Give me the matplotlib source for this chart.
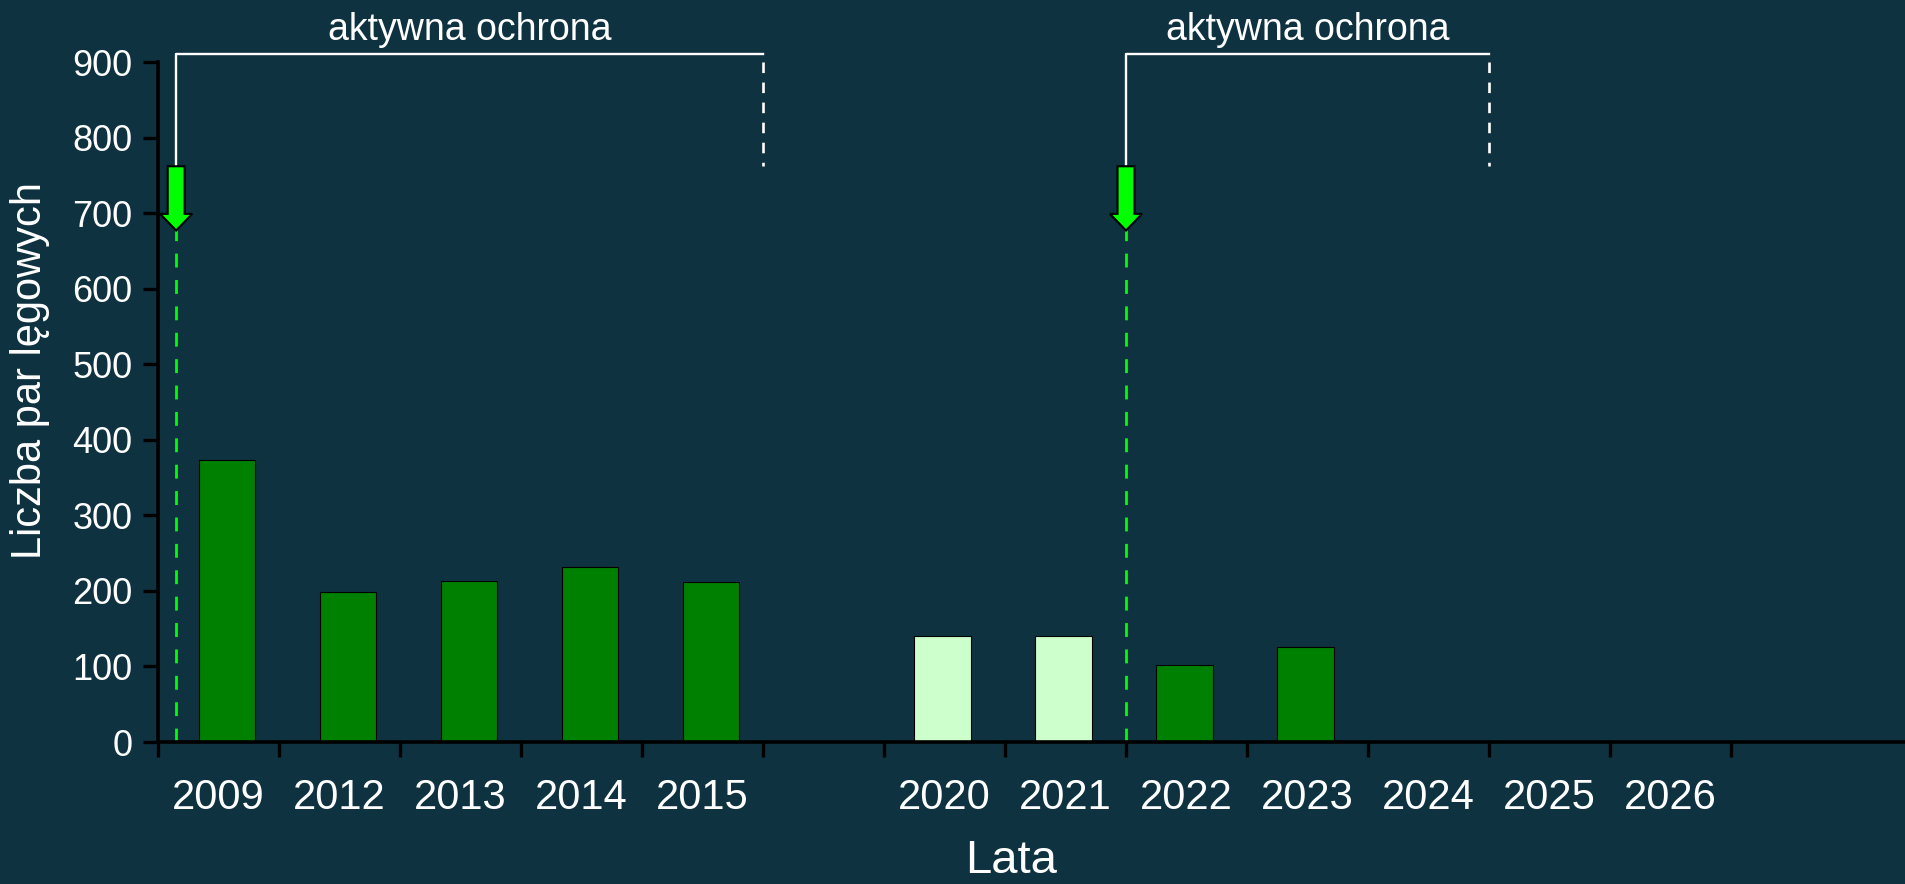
import matplotlib
matplotlib.use("Agg")
import matplotlib.pyplot as plt
from matplotlib.patches import FancyArrow

plt.rcParams['font.family'] = ['Liberation Sans', 'DejaVu Sans']

# categories on the x axis ('' = empty slot between 2015 and 2020)
years = ["2009", "2012", "2013", "2014", "2015", "", "2020", "2021", "2022", "2023", "2024", "2025", "2026"]

# counted breeding pairs
bar_years = ["2009", "2012", "2013", "2014", "2015", "2020", "2021", "2022", "2023"]
pairs = [373, 199, 213, 232, 212, 140, 140, 102, 126]
estimated = ["2020", "2021"]

# active protection periods: (start slot, end slot)
protection = [(-0.35, 4.5), (7.5, 10.5)]
protection_label = "aktywna ochrona"

BG = "#0f3241"
DARK = "#008000"
LIGHT = "#ccffcc"
LIME = "#00ff00"


def main() -> None:
    fig = plt.figure(figsize=(19.05, 8.84), dpi=100, facecolor=BG)
    ax = fig.add_axes([158 / 1905, 142 / 884, 1 - 158 / 1905, 680 / 884])
    ax.set_facecolor(BG)

    for year, val in zip(bar_years, pairs):
        i = years.index(year)
        off = 0.07 if i < 5 else -0.02
        ax.bar(i + off, val, width=0.47, color=LIGHT if year in estimated else DARK,
               edgecolor="black", linewidth=0.8, zorder=2)

    ax.set_xlim(-0.5, -0.5 + (1905 - 158) / 121.0)
    ax.set_ylim(0, 900)

    ax.set_xticks([i - 0.5 for i in range(len(years) + 1)])
    ax.set_xticklabels([])
    ax.set_xticks(range(len(years)), minor=True)
    ax.set_xticklabels(years, minor=True, fontsize=30, color="white")
    ax.tick_params(axis="x", which="major", length=10.5, width=2.4, color="black", direction="out")
    ax.tick_params(axis="x", which="minor", length=0, pad=26)

    ax.set_yticks(range(0, 901, 100))
    ax.tick_params(axis="y", length=10.5, width=2.4, color="black", labelsize=26,
                   labelcolor="white", pad=8)

    for s in ("top", "right"):
        ax.spines[s].set_visible(False)
    for s in ("left", "bottom"):
        ax.spines[s].set_color("black")
        ax.spines[s].set_linewidth(2.6)
        ax.spines[s].set_zorder(3)

    for x0, x1 in protection:
        # bracket
        ax.plot([x0, x0, x1], [762, 910, 910], color="white", lw=1.7, clip_on=False, zorder=4)
        ax.plot([x1, x1], [900, 762], color="white", lw=1.9, ls=(0, (4, 3.6)),
                clip_on=False, zorder=4)
        ax.text((x0 + x1) / 2, 943, protection_label, color="white", fontsize=27,
                ha="center", va="center", clip_on=False)
        # start marker
        ax.plot([x0, x0], [0, 677], color=LIME, lw=2.0, ls=(0, (5, 4.5)), zorder=1)
        ax.add_patch(FancyArrow(x0, 762, 0, -85, width=0.14, head_width=0.265,
                                head_length=22, length_includes_head=True,
                                facecolor=LIME, edgecolor="black", linewidth=1.5,
                                zorder=5, clip_on=False))

    fig.text(30 / 1905, 1 - 370 / 884, "Liczba par lęgowych", rotation=90, color="white",
             fontsize=30, ha="center", va="center")
    fig.text(1011 / 1905, 1 - 873 / 884, "Lata", color="white", fontsize=34,
             ha="center", va="baseline")

    fig.savefig("out.png", dpi=100, facecolor=BG)


if __name__ == '__main__':
    main()
